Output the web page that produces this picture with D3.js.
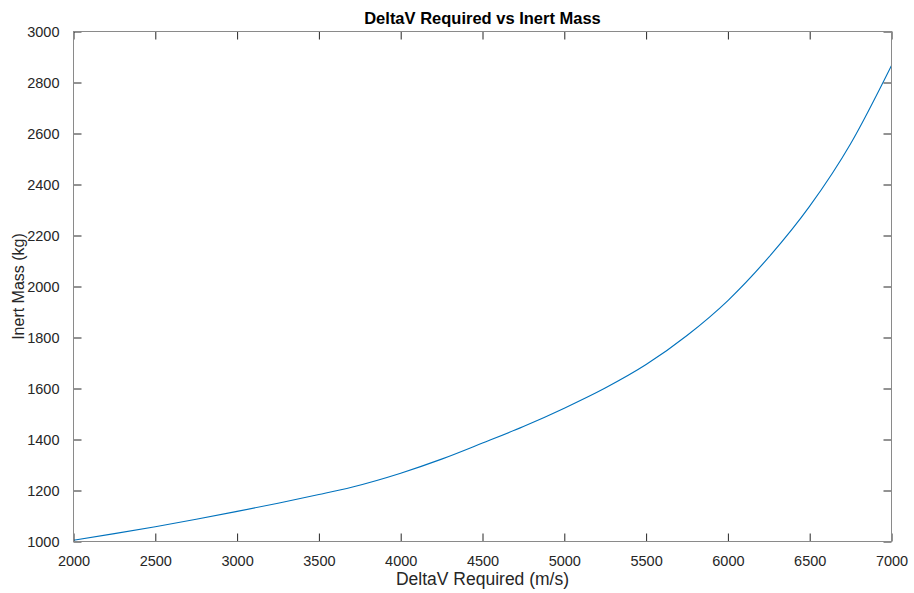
<!DOCTYPE html>
<html>
<head>
<meta charset="utf-8">
<script src="https://cdn.jsdelivr.net/npm/d3@7"></script>
<style>
  body { margin: 0; background: #fff; }
  svg { font-family: "Liberation Sans", Arial, sans-serif; }
</style>
</head>
<body>
<div id="chart"></div>
<script>
// values
var deltaV = [2000, 2250, 2500, 2750, 3000, 3250, 3500, 3700, 4000, 4250, 4500, 4750, 5000, 5250, 5500, 5750, 6000, 6250, 6500, 6750, 7000];
var inertMass = [1005, 1031, 1058, 1087, 1118, 1150, 1184, 1213, 1268, 1323, 1386, 1451, 1523, 1602, 1694, 1808, 1945, 2115, 2315, 2560, 2867];
var xTicks = [2000, 2500, 3000, 3500, 4000, 4500, 5000, 5500, 6000, 6500, 7000];
var yTicks = [1000, 1200, 1400, 1600, 1800, 2000, 2200, 2400, 2600, 2800, 3000];

var W = 914, H = 593;
var plotL = 73.5, plotT = 31.5, plotR = 891.5, plotB = 541.5;

var svg = d3.select("#chart").append("svg")
  .attr("width", W).attr("height", H);

var x = d3.scaleLinear().domain([2000, 7000]).range([plotL, plotR]);
var y = d3.scaleLinear().domain([1000, 3000]).range([plotB, plotT]);

var data = deltaV.map(function (d, i) { return { dv: d, m: inertMass[i] }; });

/* curve */
var line = d3.line()
  .x(function (d) { return x(d.dv); })
  .y(function (d) { return y(d.m); })
  .curve(d3.curveMonotoneX);

svg.append("path")
  .datum(data)
  .attr("d", line)
  .attr("fill", "none")
  .attr("stroke", "#0072BD")
  .attr("stroke-width", 1.1);

/* axes: box with inward ticks on all sides */
function styleAxis(g) {
  g.select(".domain").remove();
  g.selectAll(".tick line").attr("stroke", "#262626");
  g.selectAll(".tick text").attr("fill", "#262626")
    .style("font-size", "14.5px")
    .style("font-family", "'Liberation Sans', Arial, sans-serif");
}

svg.append("g")
  .attr("transform", "translate(0," + plotB + ")")
  .call(d3.axisBottom(x).tickValues(xTicks).tickSizeInner(-8).tickPadding(14).tickFormat(d3.format("d")))
  .call(styleAxis);

svg.append("g")
  .attr("transform", "translate(0," + plotT + ")")
  .call(d3.axisTop(x).tickValues(xTicks).tickSizeInner(-8).tickFormat(""))
  .call(styleAxis);

svg.append("g")
  .attr("transform", "translate(" + plotL + ",0)")
  .call(d3.axisLeft(y).tickValues(yTicks).tickSizeInner(-8).tickPadding(14).tickFormat(d3.format("d")))
  .call(styleAxis);

svg.append("g")
  .attr("transform", "translate(" + plotR + ",0)")
  .call(d3.axisRight(y).tickValues(yTicks).tickSizeInner(-8).tickFormat(""))
  .call(styleAxis);

svg.append("rect")
  .attr("x", plotL).attr("y", plotT)
  .attr("width", plotR - plotL).attr("height", plotB - plotT)
  .attr("fill", "none")
  .attr("stroke", "#8a8a8a")
  .attr("stroke-width", 1);

/* texts */
svg.append("text")
  .attr("x", (plotL + plotR) / 2).attr("y", 24)
  .attr("text-anchor", "middle")
  .style("font-size", "16.5px").style("font-weight", "bold")
  .attr("fill", "#000")
  .text("DeltaV Required vs Inert Mass");

svg.append("text")
  .attr("x", (plotL + plotR) / 2).attr("y", 585)
  .attr("text-anchor", "middle")
  .style("font-size", "17.5px")
  .attr("fill", "#262626")
  .text("DeltaV Required (m/s)");

svg.append("text")
  .attr("transform", "translate(24," + (plotT + plotB) / 2 + ") rotate(-90)")
  .attr("text-anchor", "middle")
  .style("font-size", "16px")
  .attr("fill", "#262626")
  .text("Inert Mass (kg)");
</script>
</body>
</html>
